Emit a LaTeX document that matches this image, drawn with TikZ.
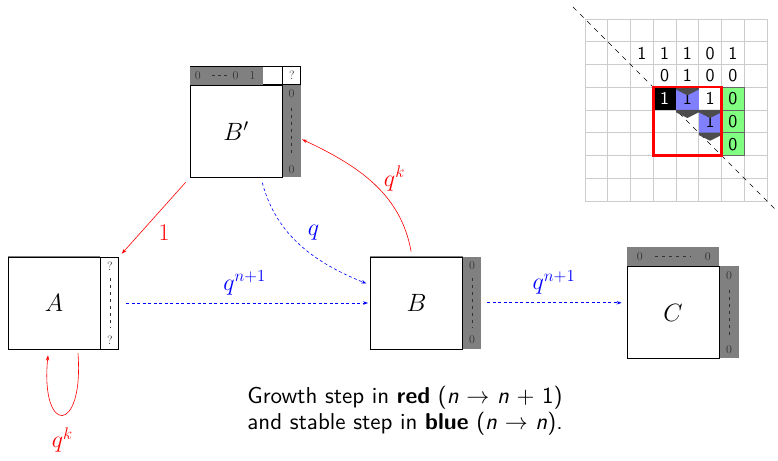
\RequirePackage{fix-cm}
\documentclass[tikz,border=0pt]{standalone}
\usepackage{fontspec}
\setsansfont{lmsans10}[Extension=.otf, UprightFont=*-regular, BoldFont=*-bold, ItalicFont=*-oblique, BoldItalicFont=*-boldoblique]
\usetikzlibrary{arrows.meta, positioning}

\tikzset{
  mainsq/.style={draw=black, line width=0.8pt, fill=white, minimum width=92pt, minimum height=92pt, inner sep=0pt, font=\fontsize{25}{25}\selectfont},
  colgray/.style={fill=gray, minimum width=18pt, minimum height=92pt, inner sep=0pt, anchor=north west},
  colwhite/.style={colgray, fill=white, draw=black, line width=0.8pt},
  stripgray/.style={fill=gray, minimum width=92pt, minimum height=18pt, inner sep=0pt, anchor=south west},
  stripnum/.style={font=\fontsize{12}{12}\selectfont, text=black!80, inner sep=0pt},
  stripdash/.style={black!80, line width=0.6pt, dash pattern=on 3pt off 4pt},
  growth/.style={red, line width=0.6pt, -{Stealth[length=5pt, width=3.5pt]}},
  stable/.style={blue, line width=0.6pt, dash pattern=on 3pt off 2.5pt, -{Stealth[length=5pt, width=3.5pt]}},
  arrlabel/.style={font=\fontsize{24}{24}\selectfont, inner sep=0pt},
  gridline/.style={gray!40, line width=0.6pt},
  cellnum/.style={font=\sffamily\fontsize{18}{18}\selectfont, inner sep=0pt},
  chevron/.style={fill=black!70},
  caption/.style={align=center, font=\sffamily\fontsize{23}{26}\selectfont}
}

\begin{document}
\begin{tikzpicture}[x=1pt, y=1pt]
  \useasboundingbox (0,0) rectangle (778,460);

  % box A
  \node[mainsq] (A) at (54,157) {$A$};
  \node[colwhite] (Acol) at (A.north east) {};
  \draw[gray, line width=1.5pt] (A.north west) -- (A.north east);
  \node[stripnum, below=5pt of Acol.north] (Aq1) {?};
  \node[stripnum, above=5pt of Acol.south] (Aq2) {?};
  \draw[stripdash, shorten <=8pt, shorten >=8pt] (Aq1) -- (Aq2);

  % box B
  \node[mainsq] (B) at (416.5,157) {$B$};
  \node[colgray] (Bcol) at (B.north east) {};
  \draw[gray, line width=1.5pt] (B.north west) -- (B.north east);
  \node[stripnum, below=5pt of Bcol.north] (Bz1) {0};
  \node[stripnum, above=5pt of Bcol.south] (Bz2) {0};
  \draw[stripdash, shorten <=8pt, shorten >=8pt] (Bz1) -- (Bz2);

  % box B'
  \node[mainsq] (Bp) at (236,328.5) {$B'$};
  \node[colgray] (Bpcol) at (Bp.north east) {};
  \node[stripgray, fill=white, draw=black, line width=0.8pt] (Bptop) at (Bp.north west) {};
  \fill[gray] ([shift={(0.4,0.4)}]Bptop.south west) rectangle ([shift={(-19,-0.4)}]Bptop.north east);
  \node[colwhite, minimum height=18pt, anchor=south west] (Bpq) at (Bp.north east) {};
  \node[stripnum] (Bpq1) at (Bpq) {?};
  \node[stripnum, right=5pt of Bptop.west] (Bpt1) {0};
  \node[stripnum] (Bpt2) at ([xshift=46pt]Bptop.west) {0};
  \node[stripnum] (Bpt3) at ([xshift=63pt]Bptop.west) {1};
  \draw[stripdash, dash pattern=on 3pt off 3pt, shorten <=11pt, shorten >=3pt] (Bpt1) -- (Bpt2);
  \node[stripnum, below=4pt of Bpcol.north] (Bpz1) {0};
  \node[stripnum, above=4pt of Bpcol.south] (Bpz2) {0};
  \draw[stripdash, shorten <=10pt, shorten >=10pt] (Bpz1) -- (Bpz2);

  % box C
  \node[mainsq] (C) at (673,147.5) {$C$};
  \node[colgray, minimum width=19pt] (Ccol) at (C.north east) {};
  \node[stripgray, minimum height=19pt] (Ctop) at (C.north west) {};
  \node[stripnum, right=10pt of Ctop.west] (Ct1) {0};
  \node[stripnum, left=8pt of Ctop.east] (Ct2) {0};
  \draw[stripdash, shorten <=12pt, shorten >=14pt] (Ct1) -- (Ct2);
  \node[stripnum, below=5pt of Ccol.north] (Cz1) {0};
  \node[stripnum, above=5pt of Ccol.south] (Cz2) {0};
  \draw[stripdash, shorten <=10pt, shorten >=10pt] (Cz1) -- (Cz2);

  % steps
  \draw[growth, shorten <=6pt, shorten >=4pt] (Bp.south west) -- node[arrlabel, pos=0.55, below right=5pt, xshift=4pt] (lone) {$1$} (Acol.north east);
  \draw[stable, shorten <=5pt, shorten >=4pt] ([xshift=25pt]Bp.south) to[out=-75, in=158] node[arrlabel, pos=0.5, right=7pt, yshift=12pt] (lq) {$q$} ([yshift=18pt]B.west);
  \draw[growth, shorten <=5pt, shorten >=1.5pt] ([xshift=-4.5pt]B.north) to[out=100, in=-25] node[arrlabel, pos=0.4, anchor=west, xshift=-1pt, yshift=17pt] (lqk) {$q^k$} ([yshift=-7.5pt]Bpcol.east);
  \draw[stable, shorten <=7pt, shorten >=2pt] (Acol.east) -- node[arrlabel, above=8pt] (lab) {$q^{n+1}$} (B.west);
  \draw[stable, shorten <=6pt, shorten >=5pt] (Bcol.east) -- node[arrlabel, above=8pt] (lbc) {$q^{n+1}$} (C.west |- Bcol.east);
  \draw[growth] ([xshift=24pt, yshift=-4pt]A.south) .. controls +(6,-82) and +(-8,-80) .. node[arrlabel, pos=0.5, below=12pt] (lloop) {$q^k$} ([xshift=-6pt, yshift=-6pt]A.south);

  % matrix
  \begin{scope}[shift={(585,441)}, x=22.75pt, y=-22.75pt]
    \foreach \i in {0,...,8} {
      \draw[gridline] (\i,0) -- (\i,8);
      \draw[gridline] (0,\i) -- (8,\i);
    }
    \draw[black, line width=0.6pt, dash pattern=on 5pt off 5pt] (-0.53,-0.53) -- (8.4,8.4);
    \fill[black] (3,3) rectangle (4,4);
    \fill[blue!50] (4,3) rectangle (5,4);
    \fill[blue!50] (5,4) rectangle (6,5);
    \filldraw[fill=green!50, draw=black!60, line width=0.6pt] (6,3) rectangle (7,4);
    \filldraw[fill=green!50, draw=black!60, line width=0.6pt] (6,4) rectangle (7,5);
    \filldraw[fill=green!50, draw=black!60, line width=0.6pt] (6,5) rectangle (7,6);
    \foreach \v [count=\k from 3] in {1,1,1,0,1}
      \node[cellnum] (ra\k) at (\k-0.5,1.5) {\v};
    \foreach \v [count=\k from 4] in {0,1,0,0}
      \node[cellnum] (rb\k) at (\k-0.5,2.5) {\v};
    \node[cellnum, text=white] (rc4) at (3.5,3.5) {1};
    \node[cellnum] (rc5) at (4.5,3.5) {1};
    \node[cellnum] (rc6) at (5.5,3.5) {1};
    \node[cellnum] (rc7) at (6.5,3.5) {0};
    \node[cellnum] (rd6) at (5.5,4.5) {1};
    \node[cellnum] (rd7) at (6.5,4.5) {0};
    \node[cellnum] (re7) at (6.5,5.5) {0};
    \fill[chevron] (4,3) -- (5,3) -- (5,3.1) -- (4.5,3.35) -- (4,3.1) -- cycle;
    \fill[chevron] (4,4) -- (5,4) -- (5,4.1) -- (4.5,4.35) -- (4,4.1) -- cycle;
    \fill[chevron] (5,4) -- (6,4) -- (6,4.1) -- (5.5,4.35) -- (5,4.1) -- cycle;
    \fill[chevron] (5,5) -- (6,5) -- (6,5.1) -- (5.5,5.35) -- (5,5.1) -- cycle;
    \draw[red, line width=2.5pt] (3,3) rectangle (6,6);
  \end{scope}

  % caption
  \node[caption] (capt) at (405,49) {Growth step in \textbf{red} (\textit{n} $\rightarrow$ \textit{n} + 1)\\and stable step in \textbf{blue} (\textit{n} $\rightarrow$ \textit{n}).};
\end{tikzpicture}
\end{document}
